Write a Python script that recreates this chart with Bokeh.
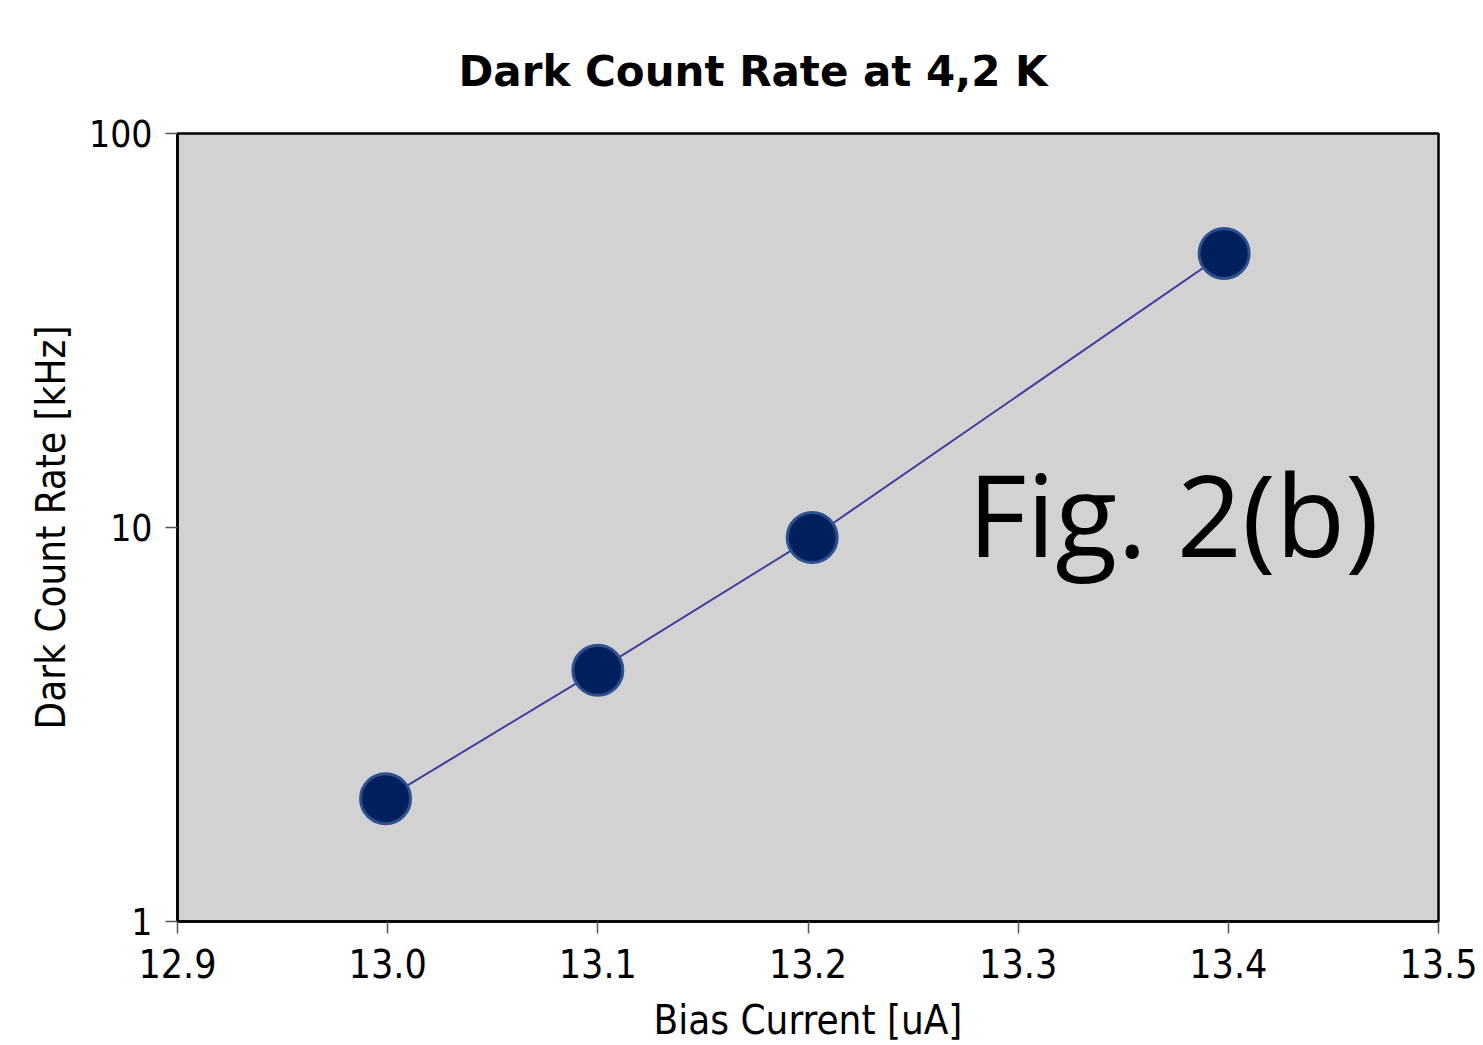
from bokeh.plotting import figure
from bokeh.models import FixedTicker, NumeralTickFormatter, CustomJSTickFormatter, Label, Range1d
from bokeh.embed import file_html
from bokeh.resources import INLINE

# Measured dark count rate vs. bias current at 4.2 K
bias_current = [12.999, 13.1, 13.202, 13.398]   # uA
dark_count_khz = [2.05, 4.34, 9.43, 49.6]       # kHz

x_ticks = [12.9, 13.0, 13.1, 13.2, 13.3, 13.4, 13.5]
y_ticks = [1, 10, 100]

TICK_FONT = "DejaVu Sans Condensed"

p = figure(
    width=1483, height=1045,
    y_axis_type="log",
    x_range=Range1d(12.9, 13.5), y_range=Range1d(1, 100),
    output_backend="svg", toolbar_location=None,
    min_border_left=177, min_border_right=45,
    min_border_top=133, min_border_bottom=124,
    title="Dark Count Rate at 4,2 K",
)

p.border_fill_color = "white"
p.background_fill_color = "#d2d2d2"
p.outline_line_color = "black"
p.outline_line_width = 2.5
p.grid.visible = False

p.title.align = "left"
p.title.offset = 281
p.title.text_font = "DejaVu Sans"
p.title.text_font_style = "bold"
p.title.text_font_size = "42px"
p.title.text_color = "black"
p.title.standoff = 75

for ax in (p.xaxis[0], p.yaxis[0]):
    ax.axis_line_color = "black"
    ax.axis_line_width = 2.5
    ax.major_tick_line_color = "#555555"
    ax.major_tick_line_width = 1.5
    ax.major_tick_out = 12
    ax.major_tick_in = 0
    ax.minor_tick_line_color = None
    ax.major_label_text_font = TICK_FONT
    ax.major_label_text_color = "black"
    ax.axis_label_text_font = TICK_FONT
    ax.axis_label_text_font_size = "40px"
    ax.axis_label_text_font_style = "normal"
    ax.axis_label_text_color = "black"

p.xaxis.ticker = FixedTicker(ticks=x_ticks)
p.xaxis.formatter = NumeralTickFormatter(format="0.0")
p.xaxis.major_label_text_font_size = "39px"
p.xaxis.major_label_standoff = 15
p.xaxis.axis_label = "Bias Current [uA]"
p.xaxis.axis_label_standoff = 16

p.yaxis.ticker = FixedTicker(ticks=y_ticks)
p.yaxis.formatter = CustomJSTickFormatter(code="return String(Math.round(tick));")
p.yaxis.major_label_text_font_size = "37px"
p.yaxis.major_label_standoff = 13
p.yaxis.axis_label = "Dark Count Rate [kHz]"
p.yaxis.axis_label_standoff = 12

p.line(bias_current, dark_count_khz, line_color="#3d3d9e", line_width=2)
p.scatter(bias_current, dark_count_khz, size=50, fill_color="#001f5c",
          line_color="#2d5090", line_width=3)

fig_label = Label(x=13.276, y=10.9, text="Fig. 2(b)", text_font="Open Sans",
                  text_font_size="114px", text_color="black",
                  text_baseline="alphabetic", text_align="left")
p.add_layout(fig_label)

open("out.html", "w").write(file_html(p, INLINE))
